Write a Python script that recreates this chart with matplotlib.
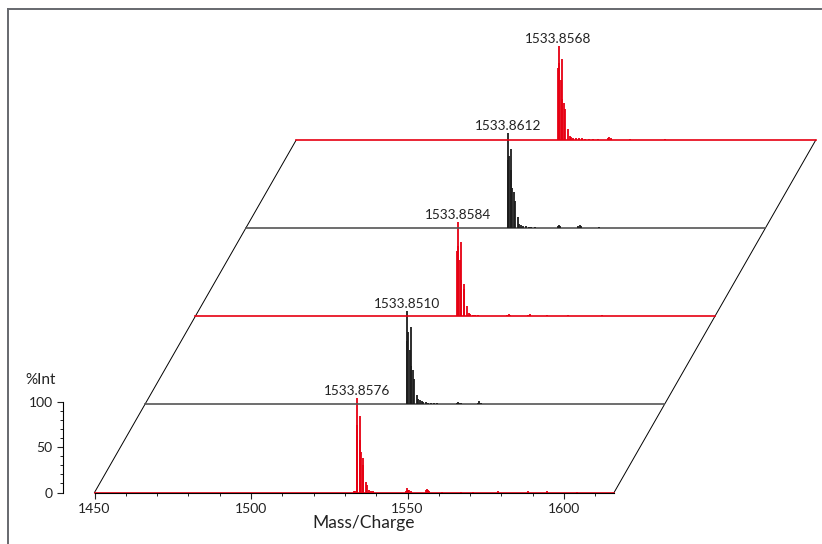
import matplotlib.pyplot as plt
from matplotlib.lines import Line2D

plt.rcParams['font.family'] = ['Lato', 'DejaVu Sans']

# stacked MALDI spectra, bottom trace first
peak_labels = ["1533.8576", "1533.8510", "1533.8584", "1533.8612", "1533.8568"]
trace_colors = ["#e60012", "#1c1c1c", "#e60012", "#1c1c1c", "#e60012"]
baseline_colors = ["#e60012", "#555555", "#e60012", "#555555", "#e60012"]

spec1_mz = [1532.9, 1533.3, 1533.72, 1533.86, 1533.97, 1534.72, 1534.86, 1535.0,
            1535.75, 1535.92, 1536.8, 1536.92, 1537.85, 1538.4, 1539.0, 1549.5,
            1549.8, 1550.1, 1550.4, 1551.0, 1555.8, 1556.1, 1556.5, 1557.0,
            1560.9, 1567.0, 1571.0, 1578.9, 1588.4, 1594.6, 1604.0]
spec1_int = [1.5, 2, 62, 104, 75, 58, 84, 45,
             38, 30, 12, 8, 3, 2, 1.5, 2,
             4.5, 3, 2.5, 1.5, 3, 3.5, 2.5, 1.5,
             1, 1, 1, 1.5, 1.2, 1.5, 1]

spec2_mz = [1533.72, 1533.86, 1533.97, 1534.72, 1534.86, 1535.0, 1535.75, 1535.92,
            1536.85, 1537.3, 1537.85, 1538.5, 1539.0, 1539.8, 1540.6, 1541.5,
            1542.3, 1543.2, 1544.5, 1549.6, 1550.0, 1550.4, 1551.1, 1556.4,
            1556.9, 1557.5, 1562.0, 1570.5]
spec2_int = [70, 103, 80, 60, 86, 42, 38, 28,
             10, 6, 5, 4, 3, 2.5, 2, 2,
             1.5, 1.5, 1, 1.5, 3, 2, 1.5, 2,
             3.5, 2, 1, 1]

spec3_mz = [1533.72, 1533.86, 1533.97, 1534.72, 1534.86, 1535.0, 1535.75, 1535.92,
            1536.85, 1537.4, 1537.9, 1538.6, 1539.4, 1540.3, 1549.7, 1550.1,
            1550.5, 1556.3, 1556.8, 1562.5, 1569.0, 1580.0]
spec3_int = [72, 104, 78, 62, 82, 40, 36, 30,
             11, 4, 3, 2, 1.5, 1, 2, 3,
             2, 1.5, 2.5, 1, 1, 1]

spec4_mz = [1533.72, 1533.86, 1533.97, 1534.72, 1534.86, 1535.0, 1535.75, 1535.92,
            1536.85, 1537.4, 1537.9, 1538.6, 1539.4, 1540.4, 1541.3, 1542.5,
            1549.7, 1550.0, 1550.4, 1556.3, 1556.8, 1557.2, 1563.0]
spec4_int = [75, 105, 80, 64, 88, 44, 40, 30,
             12, 5, 4, 3, 2, 1.5, 1.5, 1,
             2, 4, 2, 3, 4, 2, 1]

spec5_mz = [1533.72, 1533.86, 1533.97, 1534.72, 1534.86, 1535.0, 1535.75, 1535.92,
            1536.85, 1537.4, 1537.9, 1538.6, 1539.4, 1540.3, 1541.2, 1542.4,
            1543.5, 1545.0, 1546.5, 1549.7, 1550.1, 1550.5, 1556.8, 1568.0]
spec5_int = [80, 104, 85, 66, 90, 45, 41, 34,
             12, 5, 4, 3, 2.5, 2, 2, 1.5,
             1.5, 1, 1, 2, 4, 2, 1.5, 1]

spectra_mz = [spec1_mz, spec2_mz, spec3_mz, spec4_mz, spec5_mz]
spectra_int = [spec1_int, spec2_int, spec3_int, spec4_int, spec5_int]

x_start, x_end = 1450, 1616
dx, dy = 16.1, 97.2      # shift between stacked traces (data units)
px_x, px_y = 3.13, 0.906  # pixels per m/z unit and per % unit
ox, oy = 94.5, 492.5      # pixel position of (1450, 0)

fig = plt.figure(figsize=(8.22, 5.44), dpi=100)
ax = fig.add_axes([0, 0, 1, 1])
ax.set_xlim(x_start - ox / px_x, x_start + (822 - ox) / px_x)
ax.set_ylim(-(544 - oy) / px_y, oy / px_y)
ax.patch.set_visible(False)

# parallelogram sides
n = len(spectra_mz) - 1
ax.plot([x_start, x_start + n * dx], [0, n * dy], color="black", lw=0.7, zorder=1)
ax.plot([x_end, x_end + n * dx], [0, n * dy], color="black", lw=0.7, zorder=1)

for i in range(len(spectra_mz)):
    x0, y0 = i * dx, i * dy
    mz = [m + x0 for m in spectra_mz[i]]
    top = [y0 + v for v in spectra_int[i]]
    ax.plot([x_start + x0, x_end + x0], [y0, y0], color=baseline_colors[i],
            lw=1.2, zorder=2 + 2 * i)
    ax.vlines(mz, y0, top, color=trace_colors[i], lw=1.3, zorder=3 + 2 * i)
    k = spectra_int[i].index(max(spectra_int[i]))
    ax.text(mz[k], top[k] + 1.5, peak_labels[i], ha="center", va="bottom",
            fontsize=9.8, color="#222222", zorder=20)

# axes
for s in ["top", "right"]:
    ax.spines[s].set_visible(False)
ax.spines["left"].set_position(("data", x_start - 31.5 / px_x))
ax.spines["left"].set_bounds(0, 100)
ax.spines["bottom"].set_position(("data", 0))
ax.spines["bottom"].set_bounds(x_start, x_end)
ax.spines["left"].set_linewidth(0.8)
ax.spines["bottom"].set_linewidth(0.8)

ax.set_xticks([1450, 1500, 1550, 1600])
ax.set_xticks(list(range(1460, 1611, 10)), minor=True)
ax.set_yticks([0, 50, 100])
ax.set_yticks(list(range(10, 100, 10)), minor=True)
ax.tick_params(which="major", direction="out", length=4, width=0.8,
               labelsize=10, pad=3.5, colors="#222222")
ax.tick_params(which="minor", direction="out", length=2.5, width=0.7, colors="#222222")

fig.text(41 / 822, 1 - 380 / 544, "%Int", ha="center", va="center",
         fontsize=11, color="#222222")
fig.text(364 / 822, 1 - 523 / 544, "Mass/Charge", ha="center", va="center",
         fontsize=12.5, color="#222222")

# frame
fc = "#66686e"
fig.add_artist(Line2D([7.5 / 822, 7.5 / 822], [0, 1 - 8.5 / 544],
                      transform=fig.transFigure, color=fc, lw=1.4))
fig.add_artist(Line2D([7.5 / 822, 821 / 822], [1 - 8.5 / 544, 1 - 8.5 / 544],
                      transform=fig.transFigure, color=fc, lw=1.4))

fig.savefig("out.png", dpi=100)
